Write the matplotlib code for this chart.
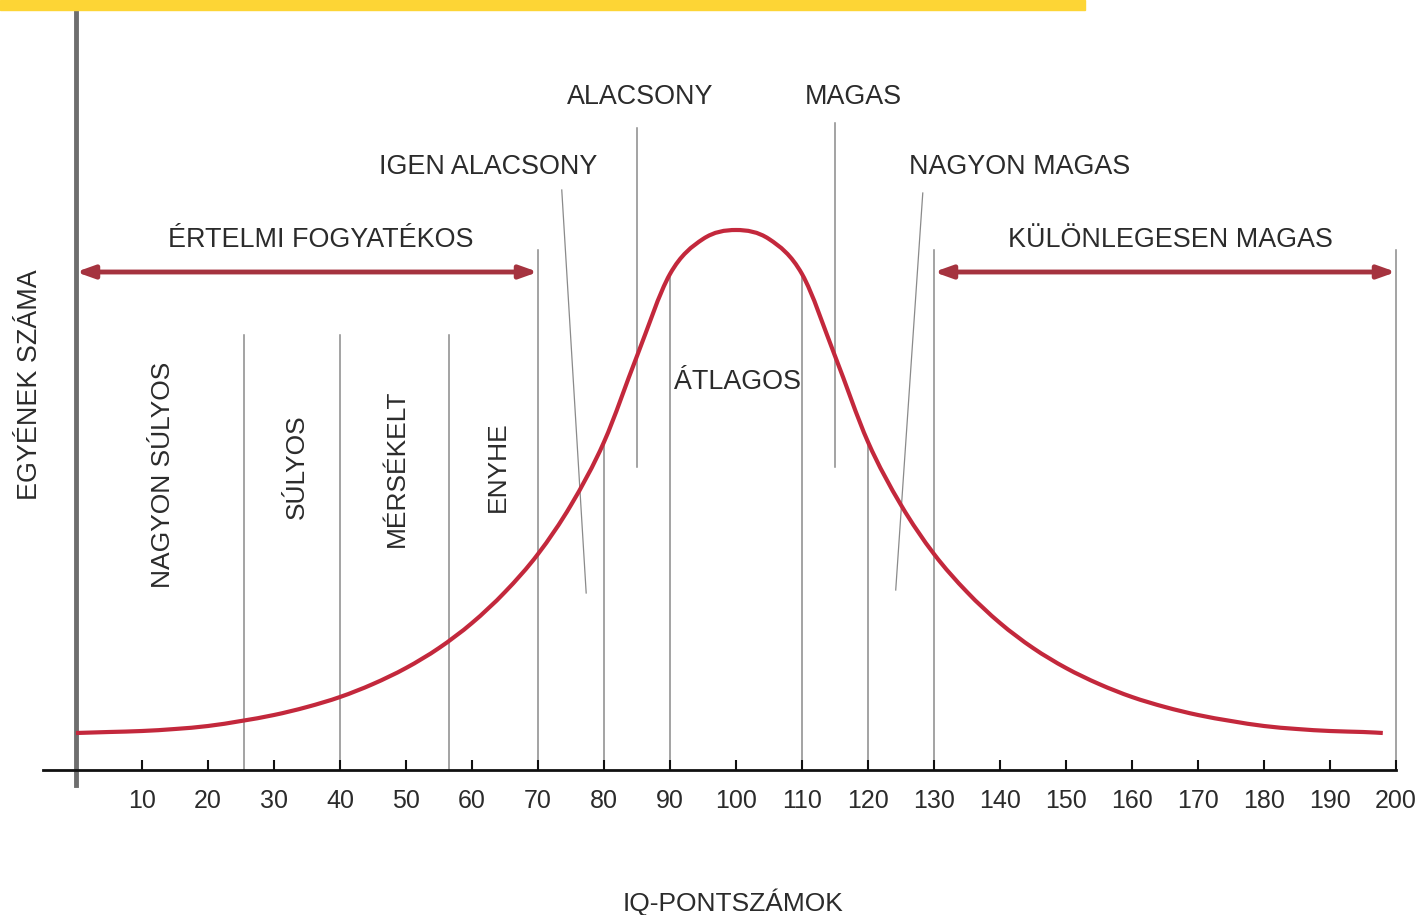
import matplotlib
matplotlib.use("Agg")
import matplotlib.pyplot as plt
from matplotlib.patches import Rectangle, PathPatch
from matplotlib.path import Path

plt.rcParams['font.family'] = ['Liberation Sans', 'DejaVu Sans']

# IQ scores and the bell curve height
iq = [0, 5, 10, 15, 20, 25, 30, 35, 40, 45, 50, 55, 60, 65, 70, 75, 80, 85, 90, 95,
      100, 105, 110, 115, 120, 125, 130, 135, 140, 145, 150, 155, 160, 165, 170, 175,
      180, 185, 190, 195, 198]
count = [37, 38, 39, 41, 44, 49, 55, 63, 73, 86, 102, 122, 147, 178, 216, 265, 328, 414, 496, 531,
         540, 531, 496, 414, 328, 265, 216, 178, 147, 122, 102, 86, 73, 63, 55, 49,
         44, 41, 39, 38, 37]

ticks = list(range(10, 201, 10))

# boundary lines: (x, bottom, top)
full_lines = [(25.5, 0, 435), (40, 0, 435), (56.5, 0, 435),
              (70, 0, 520), (130, 0, 520), (200, 0, 520)]
curve_lines = [80, 90, 110, 120]
short_lines = [(85, 303, 642), (115, 303, 647)]
slant_lines = [((73.6, 580), (77.3, 177)), ((128.3, 577), (124.2, 180))]

top_labels = [("IGEN ALACSONY", 62.4, 603), ("ALACSONY", 85.5, 673),
              ("MAGAS", 117.7, 673), ("NAGYON MAGAS", 142.9, 603),
              ("ÉRTELMI FOGYATÉKOS", 37.1, 530), ("KÜLÖNLEGESEN MAGAS", 165.8, 530),
              ("ÁTLAGOS", 100.2, 388)]
side_labels = [("NAGYON SÚLYOS", 13.2, 295), ("SÚLYOS", 33.5, 303),
               ("MÉRSÉKELT", 48.6, 302), ("ENYHE", 63.9, 303)]

arrows = [(0, 70), (130, 200)]
arrow_y = 498

curve_col = '#c3283c'
arrow_col = '#a5333f'
grey = '#8a8a8a'
txt = '#2b2b2b'

fig = plt.figure(figsize=(14.18, 9.15), dpi=100)
ax = fig.add_axes([0, 0, 1, 1])
ax.set_xlim(-76 / 6.6, (1418 - 76) / 6.6)
ax.set_ylim(-145, 770)

# yellow strip at the top
fig.patches.append(Rectangle((0, 1 - 10 / 915), 1085 / 1418, 10 / 915,
                             transform=fig.transFigure, color='#fdd535', zorder=0))

for x, b, t in full_lines:
    ax.plot([x, x], [b, t], color=grey, lw=1.1, zorder=1)
for x in curve_lines:
    top = count[iq.index(x)]
    ax.plot([x, x], [0, top], color=grey, lw=1.1, zorder=1)
for x, b, t in short_lines:
    ax.plot([x, x], [b, t], color=grey, lw=1.1, zorder=1)
for (x0, y0), (x1, y1) in slant_lines:
    ax.plot([x0, x1], [y0, y1], color=grey, lw=0.9, zorder=1)

# smooth curve through the read points (Catmull-Rom as Bezier segments)
pts = list(zip(iq, count))
verts = [pts[0]]
codes = [Path.MOVETO]
for i in range(len(pts) - 1):
    p0 = pts[max(i - 1, 0)]
    p1 = pts[i]
    p2 = pts[i + 1]
    p3 = pts[min(i + 2, len(pts) - 1)]
    c1 = (p1[0] + (p2[0] - p0[0]) / 6, p1[1] + (p2[1] - p0[1]) / 6)
    c2 = (p2[0] - (p3[0] - p1[0]) / 6, p2[1] - (p3[1] - p1[1]) / 6)
    verts += [c1, c2, p2]
    codes += [Path.CURVE4] * 3
ax.add_patch(PathPatch(Path(verts, codes), fill=False, edgecolor=curve_col,
                       lw=3.0, capstyle='butt', zorder=3))

for a, b in arrows:
    ax.annotate('', xy=(a, arrow_y), xytext=(b, arrow_y),
                arrowprops=dict(arrowstyle='<|-|>,head_length=0.7,head_width=0.25',
                                color=arrow_col, lw=3.5, shrinkA=0, shrinkB=0,
                                mutation_scale=15))

for s, x, y in top_labels:
    ax.text(x, y, s, ha='center', va='center', fontsize=19.4, color=txt)
for s, x, y in side_labels:
    ax.text(x, y, s, ha='center', va='center', fontsize=19, color=txt, rotation=90)

ax.text(-7, 385, "EGYÉNEK SZÁMA", ha='center', va='center', fontsize=19.4,
        color=txt, rotation=90)
ax.text(99.5, -141, "IQ-PONTSZÁMOK", ha='center', va='baseline', fontsize=19, color=txt)

# axes
for side in ['top', 'right']:
    ax.spines[side].set_visible(False)
ax.spines['bottom'].set_position(('data', 0))
ax.spines['left'].set_position(('data', 0))
ax.spines['bottom'].set_bounds(-5, 200)
ax.spines['left'].set_bounds(-15, 760)
ax.spines['bottom'].set_linewidth(2.0)
ax.spines['bottom'].set_color('#111111')
ax.spines['left'].set_linewidth(3.5)
ax.spines['left'].set_color('#6e6e6e')
ax.set_xticks(ticks)
ax.set_xticklabels([str(t) for t in ticks])
ax.set_yticks([])
ax.tick_params(axis='x', direction='in', length=7, width=1.5, color='#111111',
               pad=14, labelsize=18, labelcolor=txt)

fig.savefig('out.png', dpi=100, facecolor='white')
